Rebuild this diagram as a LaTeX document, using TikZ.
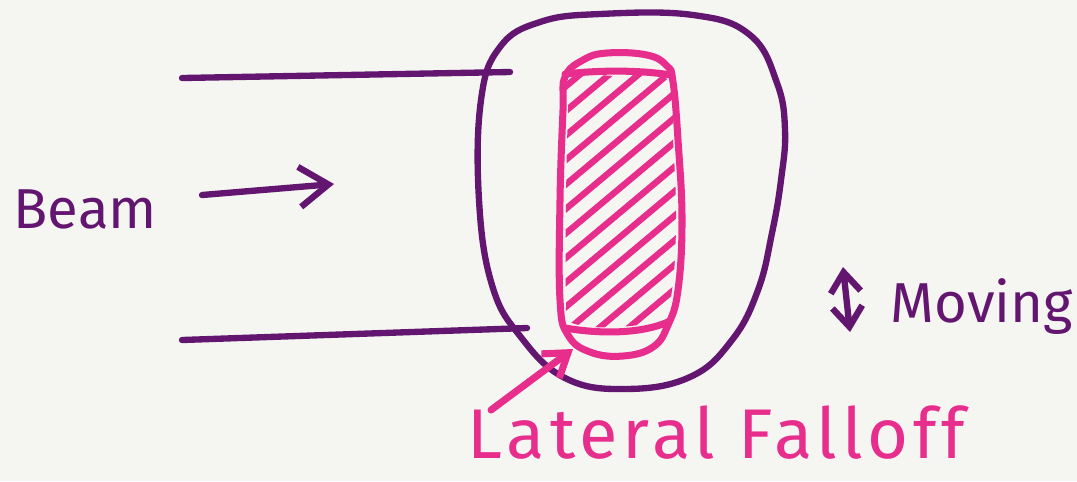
\documentclass[tikz,border=0pt]{standalone}
\usepackage{fontspec}
\setmainfont{Fira Sans}
\usepackage{tikz}
\usetikzlibrary{arrows.meta}
\definecolor{penpurple}{RGB}{98,22,112}
\definecolor{penpink}{RGB}{232,46,140}
\definecolor{paper}{RGB}{245,245,242}

\begin{document}
\begin{tikzpicture}[
  x=0.01cm, y=-0.01cm,
  purpleline/.style={draw=penpurple, line width=1.8pt, line cap=round, line join=round},
  pinkline/.style={draw=penpink, line width=2pt, line cap=round, line join=round},
  hatchline/.style={draw=penpink, line width=1.8pt, line cap=round},
  bigbarb/.style={-{Straight Barb[length=2.9mm, width=4mm]}},
  smallbarb/.style={-{Straight Barb[length=2.2mm, width=3mm]}},
  bothbarb/.style={{Straight Barb[length=2mm, width=3mm]}-{Straight Barb[length=2mm, width=3mm]}},
  handtext/.style={inner sep=0pt, anchor=base west, font=\fontsize{16}{18}\selectfont}
]
\fill[paper] (0,0) rectangle (1077,481);
\useasboundingbox (0,0) rectangle (1077,481);

% beam edges and direction
\coordinate (topstart) at (182,78);
\coordinate (topend) at (510,72);
\coordinate (botstart) at (182,340);
\coordinate (botend) at (527,328);
\draw[purpleline] (topstart) -- (topend);
\draw[purpleline] (botstart) -- (botend);

\node[handtext, text=penpurple] (beam) at (13,228) {Beam};
\coordinate (beamtail) at (202,195);
\coordinate (beamtip) at (334,184);
\draw[purpleline, bigbarb] (beamtail) -- (beamtip);

% outer contour
\draw[purpleline] plot[smooth cycle, tension=0.7] coordinates {
  (500,47) (540,22) (600,14) (693,15) (750,35) (777,83) (785,130) (781,180)
  (772,233) (758,290) (732,340) (690,377) (625,389) (565,378) (520,336)
  (492,285) (479,200) (481,100)};

% hatched spot
\begin{scope}
  \clip plot[smooth cycle, tension=0.7] coordinates {
    (570,78) (617,76) (668,80) (673,140) (676,220) (672,290) (662,317)
    (617,327) (570,322) (566,300) (566,200) (568,110)};
  \foreach \k in {0,...,13}
    \draw[hatchline] (540,{108+24.5*\k}) -- ++(160,-134);
\end{scope}
\draw[pinkline] plot[smooth cycle, tension=0.7] coordinates {
  (565,77) (583,60) (607,53) (647,55) (667,66) (673,82) (678,140) (682,220)
  (678,290) (668,325) (653,347) (623,356) (590,352) (568,335) (560,300)
  (560,200) (563,110)};
\draw[pinkline] (565,74) .. controls (600,70) and (640,70) .. (671,75);
\draw[pinkline] (565,328) .. controls (600,334) and (640,334) .. (668,322);

% falloff label
\node[handtext, text=penpink, font=\fontsize{20}{22}\selectfont\addfontfeature{LetterSpace=7}] (falloff) at (467,458) {Lateral Falloff};
\coordinate (falltail) at (491,410);
\coordinate (falltip) at (573,349);
\draw[pinkline, smallbarb] (falltail) -- (falltip);

% moving
\coordinate (movetop) at (843,267);
\coordinate (movebot) at (850,332);
\draw[purpleline, bothbarb] (movebot) -- (movetop);
\node[handtext, text=penpurple] (moving) at (890,322) {Moving};
\end{tikzpicture}
\end{document}
